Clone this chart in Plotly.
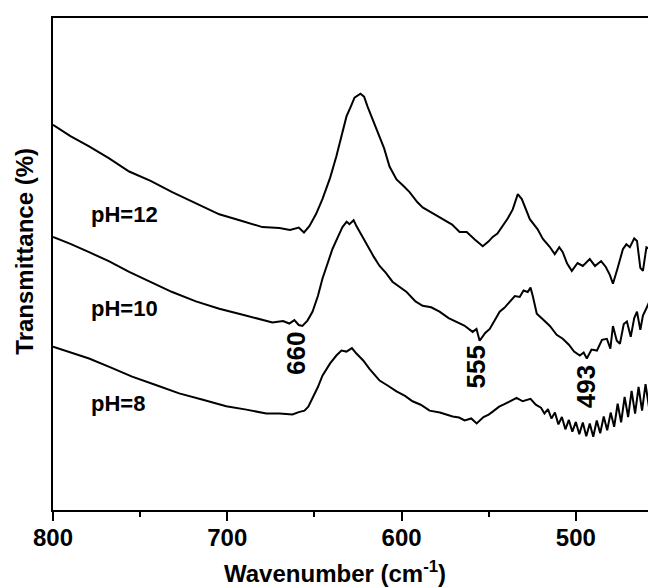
import plotly.graph_objects as go

# Wavenumber (cm^-1) and transmittance (arbitrary %, curves offset)
wn_ph12 = [800, 790, 779.3, 768, 756.3, 744, 731.6, 718, 704.6, 692, 679.9, 670.1, 664, 659, 656,
           652.9, 649, 645.4, 641, 637.4, 634, 631.6, 629, 627.0, 623.6, 621.5, 619.5, 617, 614.4, 610,
           606.9, 602.9, 599, 595.4, 591, 587.9, 582, 576.4, 571, 566.7, 562.6, 558, 553.4, 550,
           547.7, 545, 541.9, 539, 536.2, 533.3, 531.0, 528.5, 526.4, 522, 518.9, 515, 512.1, 509.5,
           507.5, 505, 502.3, 499, 496.0, 492, 489, 485.5, 482.8, 480.5, 478.7, 476, 473.0, 471,
           469.0, 466.5, 464.9, 463, 461.5, 459.5, 457.5, 455.5, 454.0]
tr_ph12 = [78.3, 76.0, 73.9, 71.5, 68.8, 66.9, 64.6, 62.3, 60.1, 58.8, 57.5, 57.3, 56.9, 57.4, 56.4,
           57.7, 60.2, 63.2, 67.5, 71.9, 76.5, 80.0, 82.1, 83.8, 84.6, 84.0, 82.0, 79.8, 77.3, 73.5,
           69.8, 67.2, 65.9, 64.6, 62.6, 61.5, 60.3, 59.1, 58.0, 56.5, 56.5, 55.0, 53.6, 54.6,
           55.5, 56.2, 57.7, 59.3, 61.1, 64.2, 63.2, 61.0, 59.1, 57.1, 55.1, 53.5, 52.0, 53.4,
           52.4, 50.1, 48.6, 50.2, 49.6, 51.0, 49.6, 50.6, 49.4, 47.8, 46.0, 49.2, 53.0, 54.0,
           53.4, 55.2, 54.7, 49.2, 48.6, 53.4, 53.0, 48.0, 55.7]

wn_ph10 = [800, 790, 779.3, 768, 756.3, 744, 731.6, 718, 704.6, 690, 674.1, 668, 664.4, 661.5, 659,
           656.9, 654, 651.1, 648, 645.4, 642.5, 639.7, 636.5, 633.9, 631.5, 629.9, 627.5, 625.9, 622.5,
           619.5, 616, 612.6, 609, 605.2, 601, 597.1, 592, 587.9, 583, 578.2, 573, 568.4, 564,
           559.2, 557, 555.2, 552, 549.4, 546.5, 543.7, 541, 537.9, 535, 532.2, 530, 527.6, 526,
           524.7, 522.4, 518.5, 514.9, 511, 507.5, 504, 501, 497.7, 495.5, 493.7, 491, 487.9, 485,
           482.2, 480.2, 478.7, 476.5, 474.7, 472.5, 470.7, 468.5, 466.5, 464.9, 463, 461.5, 459.5,
           457.5, 455.5, 454.0]
tr_ph10 = [55.5, 54.1, 52.4, 50.6, 48.4, 46.4, 44.3, 42.4, 40.9, 39.6, 38.1, 38.4, 37.9, 38.6, 37.6,
           37.4, 38.5, 40.3, 43.5, 47.0, 50.2, 53.0, 55.5, 57.5, 58.6, 58.1, 58.9, 57.7, 55.6,
           53.6, 51.5, 49.6, 48.2, 46.4, 45.4, 44.3, 42.4, 41.5, 41.2, 40.3, 39.0, 38.3, 37.5,
           36.2, 36.8, 34.4, 36.0, 36.8, 38.5, 40.3, 41.1, 42.3, 43.5, 43.3, 44.6, 44.3, 45.2,
           43.5, 39.9, 38.6, 37.4, 35.6, 34.8, 33.6, 32.2, 31.4, 32.0, 30.8, 32.6, 32.4, 34.6,
           34.8, 32.8, 37.4, 34.4, 33.8, 37.8, 38.3, 35.2, 39.0, 40.3, 36.6, 39.5, 41.0,
           42.6, 38.2, 40.3]

wn_ph8 = [800, 790, 779.3, 767, 754.6, 741, 727.6, 714, 700.6, 689, 677.6, 670, 662.6, 659, 655.7,
          653.5, 651.1, 648, 645.4, 641, 637.4, 634.5, 631.6, 628.5, 625.9, 622, 618.4, 615.5, 612.6,
          608, 602.9, 598, 593.7, 589, 583.9, 578, 573, 570.7, 567, 563.8, 560, 556.9, 553, 550,
          547.7, 544, 541, 537.9, 534, 530.5, 526, 523, 520, 518, 516, 514, 512, 510, 508, 506,
          504, 502, 500, 498, 496, 494, 492, 490, 488, 486, 484, 482, 480, 478, 476, 474, 472,
          470, 468, 466, 464, 462, 460, 458, 456, 454]
tr_ph8 = [33.2, 32.1, 30.8, 29.0, 27.1, 25.4, 23.7, 22.4, 21.1, 20.4, 19.6, 19.6, 19.4, 19.9, 20.2,
          21.0, 22.7, 25.0, 27.3, 29.8, 31.4, 32.4, 32.2, 32.9, 31.8, 30.4, 28.7, 27.6, 26.3,
          25.3, 24.1, 23.2, 22.1, 21.4, 20.2, 19.8, 19.2, 19.0, 18.8, 18.2, 18.6, 17.6, 18.9, 19.4,
          20.0, 21.0, 21.5, 22.1, 22.8, 22.1, 22.6, 21.4, 20.8, 19.6, 20.5, 18.6, 19.8, 17.4, 18.9,
          16.4, 18.3, 15.9, 17.9, 15.4, 17.8, 15.0, 17.6, 14.9, 18.2, 15.6, 19.0, 16.2, 19.8, 16.9,
          21.6, 17.8, 23.0, 18.9, 24.2, 19.6, 25.0, 20.2, 25.6, 20.8, 26.4, 21.8]

curve_labels = ["pH=12", "pH=10", "pH=8"]
label_wn = [779.3, 779.3, 779.3]
label_tr = [60.1, 40.9, 21.7]

peak_labels = ["660", "555", "493"]
peak_wn = [660.9, 557.5, 494.3]
peak_tr = [31.8, 29.1, 25.1]

x_ticks = [800, 700, 600, 500]

FONT = "Liberation Sans, Arial, sans-serif"

fig = go.Figure()
for wn, tr, name in [(wn_ph12, tr_ph12, "pH=12"), (wn_ph10, tr_ph10, "pH=10"), (wn_ph8, tr_ph8, "pH=8")]:
    fig.add_trace(go.Scatter(x=wn, y=tr, mode="lines", name=name,
                             line=dict(color="black", width=2), showlegend=False))

for t, x, y in zip(curve_labels, label_wn, label_tr):
    fig.add_annotation(x=x, y=y, text=t, showarrow=False, xanchor="left", yanchor="middle",
                       font=dict(family=FONT, size=22, color="black", weight="bold"))

for t, x, y in zip(peak_labels, peak_wn, peak_tr):
    fig.add_annotation(x=x, y=y, text=t, showarrow=False, textangle=-90,
                       xanchor="center", yanchor="middle",
                       font=dict(family=FONT, size=26, color="black", weight="bold"))

# axis titles as paper-anchored annotations
fig.add_annotation(xref="paper", yref="paper", x=0.5, xshift=-20, y=0, yshift=-62,
                   xanchor="center", yanchor="middle",
                   text="Wavenumber (cm<sup>-1</sup>)", showarrow=False,
                   font=dict(family=FONT, size=24, color="black", weight="bold"))
fig.add_annotation(xref="paper", yref="paper", x=0, xshift=-28, y=0.525, xanchor="center", yanchor="middle",
                   text="Transmittance (%)", textangle=-90, showarrow=False,
                   font=dict(family=FONT, size=24, color="black", weight="bold"))

# page body has an 8px margin, so the figure is 8px smaller and offset
fig.update_layout(
    width=648, height=580,
    margin=dict(l=45, r=0, t=10, b=78),
    paper_bgcolor="white", plot_bgcolor="white",
    font=dict(family=FONT, color="black"),
    xaxis=dict(range=[800, 454], tickvals=x_ticks, ticks="outside", ticklen=9, tickwidth=2,
               tickcolor="black", showline=True, linecolor="black", linewidth=2, mirror=True,
               showgrid=False, zeroline=False, automargin=False, ticklabelstandoff=-4,
               tickfont=dict(family=FONT, size=24, color="black", weight="bold"),
               minor=dict(dtick=50, tick0=800, ticks="outside", ticklen=5, tickwidth=2,
                          tickcolor="black", showgrid=False)),
    yaxis=dict(range=[0, 100], showticklabels=False, ticks="", showline=True, linecolor="black",
               linewidth=2, mirror=False, showgrid=False, zeroline=False, automargin=False),
)

fig.write_html("out.html")
